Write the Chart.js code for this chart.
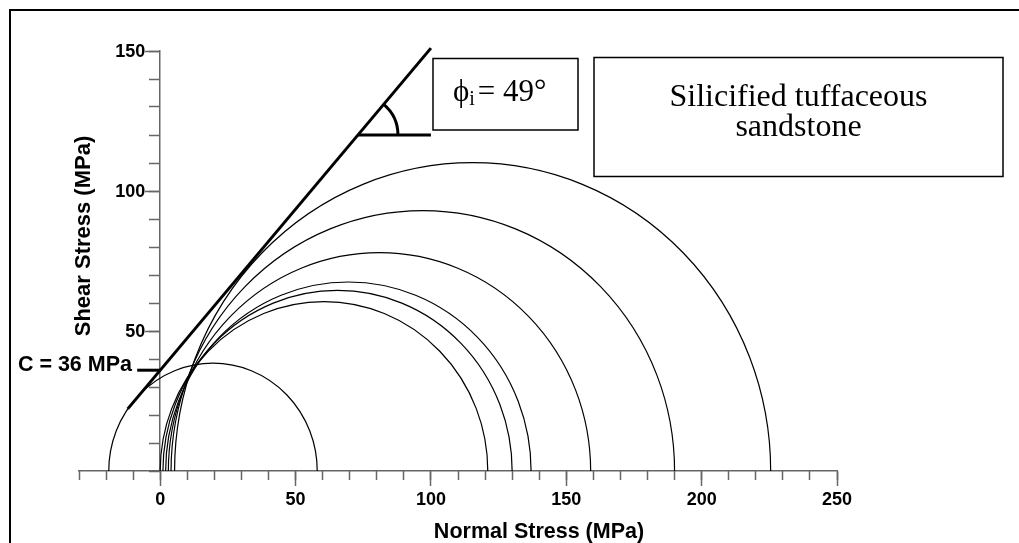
<!DOCTYPE html>
<html>
<head>
<meta charset="utf-8">
<script src="https://cdn.jsdelivr.net/npm/chart.js@4.4.0/dist/chart.umd.min.js"></script>
<style>
  html, body { margin: 0; padding: 0; background: #fff; }
  canvas { display: block; }
</style>
</head>
<body>
<canvas id="mohr" width="1019" height="543"></canvas>
<script>
// one Mohr circle per test: minor and major principal stress (MPa)
var sigma3 = [-19, 0, 1, 2, 3, 4, 5.3];
var sigma1 = [58, 121, 130, 137, 159, 190, 225.5];

// failure envelope
var cohesion = 36;        // MPa
var frictionAngle = 49;   // degrees
var envelopeX = [-12, 100];
var markerY = 120;        // level of the angle marker
var markerEndX = 100;
var cTickStartX = -8.5;

var xTickLabels = [0, 50, 100, 150, 200, 250];
var yTickLabels = [50, 100, 150];

var slope = Math.tan(frictionAngle * Math.PI / 180);
var envelope = envelopeX.map(function(x) {
    return { x: x, y: cohesion + slope * x };
});
var markerStartX = (markerY - cohesion) / slope;

var axisColor = '#666';
var sansFamily = '"Liberation Sans", Arial, sans-serif';
var serifFamily = '"Liberation Serif", "Times New Roman", serif';
var tickFont = { family: sansFamily, size: 18, weight: 'bold' };

var extras = {
    id: 'extras',
    beforeDraw: function(chart) {
        var ctx = chart.ctx;
        ctx.save();
        ctx.strokeStyle = '#000';
        ctx.lineWidth = 2;
        ctx.beginPath();
        ctx.moveTo(10, 543);
        ctx.lineTo(10, 10);
        ctx.lineTo(1019, 10);
        ctx.stroke();
        ctx.restore();
    },
    afterDatasetsDraw: function(chart) {
        var ctx = chart.ctx;
        var xs = chart.scales.x, ys = chart.scales.y;
        ctx.save();
        ctx.strokeStyle = '#000';
        ctx.lineWidth = 1.2;
        for (var i = 0; i < sigma3.length; i++) {
            var c = (sigma3[i] + sigma1[i]) / 2;
            var r = (sigma1[i] - sigma3[i]) / 2;
            var cx = xs.getPixelForValue(c);
            var cy = ys.getPixelForValue(0);
            var rx = xs.getPixelForValue(c + r) - cx;
            var ry = cy - ys.getPixelForValue(r);
            ctx.beginPath();
            ctx.ellipse(cx, cy, rx, ry, 0, Math.PI, 2 * Math.PI);
            ctx.stroke();
        }
        // friction angle arc
        var px = xs.getPixelForValue(markerStartX);
        var py = ys.getPixelForValue(markerY);
        var ex = xs.getPixelForValue(envelope[1].x) - xs.getPixelForValue(envelope[0].x);
        var ey = ys.getPixelForValue(envelope[0].y) - ys.getPixelForValue(envelope[1].y);
        var ang = Math.atan2(ey, ex);
        var rad = xs.getPixelForValue(markerStartX + 14.8) - px;
        ctx.lineWidth = 3;
        ctx.beginPath();
        ctx.arc(px, py, rad, 0, -ang, true);
        ctx.stroke();
        ctx.restore();
    },
    afterDraw: function(chart) {
        var ctx = chart.ctx;
        var xs = chart.scales.x, ys = chart.scales.y;
        ctx.save();
        ctx.fillStyle = '#000';
        ctx.strokeStyle = '#000';

        // y tick labels, left of the axis at x = 0
        ctx.font = 'bold 18px ' + sansFamily;
        ctx.textAlign = 'right';
        ctx.textBaseline = 'middle';
        yTickLabels.forEach(function(v) {
            ctx.fillText(String(v), xs.getPixelForValue(0) - 15, ys.getPixelForValue(v) + 1);
        });

        // axis titles
        ctx.textBaseline = 'alphabetic';
        ctx.textAlign = 'center';
        ctx.font = 'bold 21.5px ' + sansFamily;
        ctx.fillText('Normal Stress (MPa)', 539, 538);
        ctx.save();
        ctx.translate(90, 236);
        ctx.rotate(-Math.PI / 2);
        ctx.font = 'bold 22px ' + sansFamily;
        ctx.fillText('Shear Stress (MPa)', 0, 0);
        ctx.restore();

        // cohesion label
        ctx.textAlign = 'right';
        ctx.font = 'bold 21.5px ' + sansFamily;
        ctx.fillText('C = ' + cohesion + ' MPa', 132, 371);

        // boxes
        ctx.lineWidth = 1.5;
        ctx.strokeRect(433, 58.5, 145, 71.5);
        ctx.strokeRect(594, 57.5, 409, 119);

        ctx.textAlign = 'left';
        var x = 453;
        ctx.font = '31px ' + serifFamily;
        ctx.fillText('\u03d5', x, 101);
        x += ctx.measureText('\u03d5').width;
        ctx.font = '20px ' + serifFamily;
        ctx.fillText('i', x, 105);
        x += ctx.measureText('i').width + 3;
        ctx.font = '31px ' + serifFamily;
        ctx.fillText('= ' + frictionAngle + '\u00b0', x, 101);

        ctx.textAlign = 'center';
        ctx.font = '32px ' + serifFamily;
        ctx.fillText('Silicified tuffaceous', 798.5, 106);
        ctx.fillText('sandstone', 798.5, 136);
        ctx.restore();
    }
};

var lineStyle = { showLine: true, borderColor: '#000', borderWidth: 3, pointRadius: 0, fill: false, clip: false };

var config = {
    type: 'scatter',
    data: {
        datasets: [
            Object.assign({ label: 'envelope', data: envelope }, lineStyle),
            Object.assign({ label: 'angle', data: [{ x: markerStartX, y: markerY }, { x: markerEndX, y: markerY }] }, lineStyle),
            Object.assign({ label: 'cohesion', data: [{ x: cTickStartX, y: cohesion }, { x: 0, y: cohesion }] }, lineStyle)
        ]
    },
    options: {
        responsive: false,
        animation: false,
        layout: { padding: { left: 79, right: 182, top: 51, bottom: 0 } },
        plugins: { legend: { display: false }, tooltip: { enabled: false } },
        scales: {
            x: {
                type: 'linear', position: 'bottom', min: -30, max: 250,
                afterFit: function(scale) { scale.height = 72; },
                ticks: {
                    stepSize: 10, autoSkip: false, maxRotation: 0, minRotation: 0,
                    color: '#000', font: tickFont, padding: 3,
                    callback: function(v) { return xTickLabels.indexOf(v) >= 0 ? v : ''; }
                },
                grid: {
                    drawOnChartArea: false, tickLength: 15, tickWidth: 1.5,
                    tickColor: function(c) { return xTickLabels.indexOf(c.tick.value) >= 0 ? axisColor : 'rgba(0,0,0,0)'; }
                },
                border: { color: axisColor, width: 1.5 }
            },
            x2: {
                type: 'linear', position: { y: 0 }, min: -30, max: 250,
                ticks: { stepSize: 10, display: false, autoSkip: false },
                grid: { drawOnChartArea: false, tickLength: 9, tickWidth: 1.5, tickColor: axisColor },
                border: { display: false }
            },
            y: {
                type: 'linear', position: { x: 0 }, min: 0, max: 150,
                ticks: { stepSize: 10, display: false, autoSkip: false },
                grid: {
                    drawOnChartArea: false, tickLength: 14, tickWidth: 1.5,
                    tickColor: function(c) { return yTickLabels.indexOf(c.tick.value) >= 0 ? axisColor : 'rgba(0,0,0,0)'; }
                },
                border: { color: axisColor, width: 1.5 }
            },
            y2: {
                type: 'linear', position: { x: 0 }, min: 0, max: 150,
                ticks: { stepSize: 10, display: false, autoSkip: false },
                grid: { drawOnChartArea: false, tickLength: 11, tickWidth: 1.5, tickColor: axisColor },
                border: { display: false }
            }
        }
    },
    plugins: [extras]
};

var chart = new Chart(document.getElementById('mohr').getContext('2d'), config);
</script>
</body>
</html>
